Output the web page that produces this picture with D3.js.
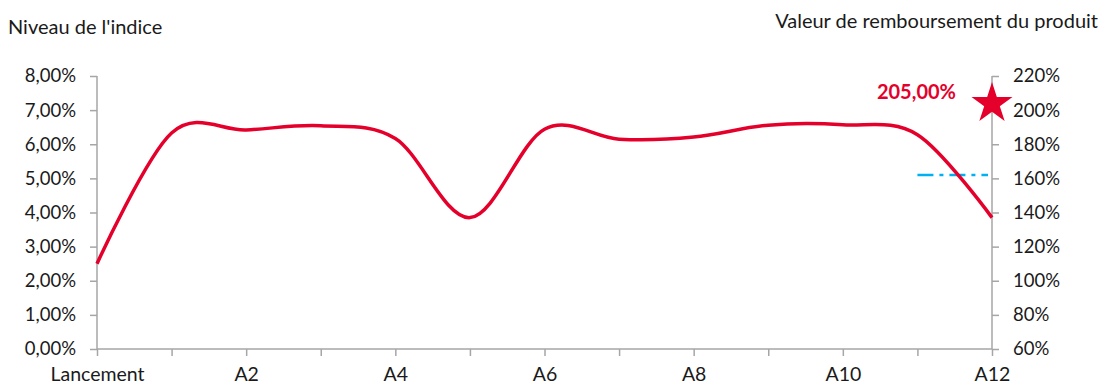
<!DOCTYPE html>
<html><head><meta charset="utf-8">
<script src="https://cdn.jsdelivr.net/npm/d3@7"></script>
<style>body{margin:0;background:#fff}svg text{font-family:Lato,"Open Sans",sans-serif;fill:#1a1a1a}</style>
</head><body><svg id="c" width="1103" height="385"></svg>
<script>
const categories = ["Lancement","A1","A2","A3","A4","A5","A6","A7","A8","A9","A10","A11","A12"];
const shownLabels = ["Lancement","A2","A4","A6","A8","A10","A12"];
const indexLevel = [2.50, 6.33, 6.42, 6.54, 6.17, 3.85, 6.44, 6.15, 6.21, 6.56, 6.57, 6.28, 3.85];
const leftTicks = [0,1,2,3,4,5,6,7,8];
const rightTicks = [60,80,100,120,140,160,180,200,220];
const barrierLevel = 5.1;
const barrierFrom = "A11", barrierTo = "A12";
const redemption = {cat:"A12", value:205};
const redemptionLabel = "205,00%";
const leftTitle = "Niveau de l'indice";
const rightTitle = "Valeur de remboursement du produit";

const svg = d3.select("#c");
const L=97, R=992, T=76, B=349;
const x = d3.scalePoint().domain(categories).range([L,R]);
const y = d3.scaleLinear().domain([0,8]).range([B,T]);
const y2 = d3.scaleLinear().domain([60,220]).range([B,T]);
const gray="#a6a6a6", red="#e4002b";
const fmt = v => d3.format(".2f")(v).replace(".",",")+"%";

const ga = svg.append("g").attr("transform",`translate(${L},0)`)
  .call(d3.axisLeft(y).tickValues(leftTicks).tickFormat(fmt).tickSize(7).tickPadding(14));
const gr = svg.append("g").attr("transform",`translate(${R},0)`)
  .call(d3.axisRight(y2).tickValues(rightTicks).tickFormat(d=>d+"%").tickSize(7).tickPadding(14));
const gx = svg.append("g").attr("transform",`translate(0,${B})`)
  .call(d3.axisBottom(x).tickSize(7).tickPadding(11).tickFormat(d=>shownLabels.includes(d)?d:""));
[ga,gr,gx].forEach(g=>{
  g.select(".domain").attr("stroke",gray).attr("stroke-width",1.5);
  g.selectAll(".tick line").attr("stroke",gray).attr("stroke-width",1.5);
  g.selectAll(".tick text").style("font-size","18.5px").attr("fill","#1a1a1a");
});
gx.selectAll(".tick text").style("font-size","19.5px");
gx.select(".domain").attr("d",`M${L},0H${R}`);
ga.select(".domain").attr("d",`M0,${T}V${B}`);
gr.select(".domain").attr("d",`M0,${T}V${B}`);

svg.append("text").attr("x",8).attr("y",34).style("font-size","20px").text(leftTitle);
svg.append("text").attr("x",1098).attr("y",28).attr("text-anchor","end").style("font-size","20px").text(rightTitle);

svg.append("line").attr("x1",x(barrierFrom)).attr("x2",x(barrierTo)-4)
  .attr("y1",y(barrierLevel)).attr("y2",y(barrierLevel))
  .attr("stroke","#00b0f0").attr("stroke-width",2.5).attr("stroke-dasharray","16,6,4,6");

const line = d3.line().x((d,i)=>x(categories[i])).y(d=>y(d)).curve(d3.curveCardinal.tension(0));
svg.append("path").datum(indexLevel).attr("d",line).attr("fill","none")
  .attr("stroke",red).attr("stroke-width",3.5);

svg.append("path").attr("d",d3.symbol(d3.symbolStar,520)())
  .attr("transform",`translate(${x(redemption.cat)},${y2(redemption.value)+2})`).attr("fill",red);
svg.append("text").attr("x",956).attr("y",99).attr("text-anchor","end")
  .style("font-size","20px").style("font-weight","bold").style("fill",red).text(redemptionLabel);
</script></body></html>
